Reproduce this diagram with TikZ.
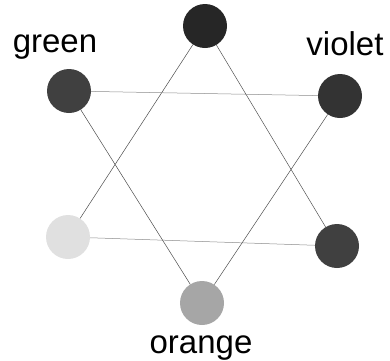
\documentclass[tikz,border=0pt]{standalone}
\usepackage{fontspec}
\setmainfont{Liberation Sans}
\usetikzlibrary{positioning}

\begin{document}
\begin{tikzpicture}[x=1pt,y=-1pt,
    ball/.style={circle, inner sep=0pt, minimum size=44pt},
    edge/.style={draw=black!70, line width=0.5pt},
    flat/.style={draw=black!45, line width=0.5pt},
    colname/.style={anchor=base, inner sep=0pt, font=\fontsize{33}{40}\selectfont}]
        \path[use as bounding box] (0,0) rectangle (390,360);

        % the six balls of the star
        \draw (205,26) node[ball, fill=black!85] (top) {};
        \draw (69,91) node[ball, fill=black!75] (green) {};
        \draw (340,96) node[ball, fill=black!80] (violet) {};
        \draw (68,237) node[ball, fill=black!12] (grey) {};
        \draw (337,246) node[ball, fill=black!75] (dark) {};
        \draw (202,303) node[ball, fill=black!35] (orange) {};

        % labels
        \node[colname] (tgreen) at (55,52) {green};
        \node[colname] (tviolet) at (345,55) {violet};
        \node[colname] (torange) at (201,353) {orange};

        % two triangles
        \draw[edge] (top) -- (grey);
        \draw[edge] (top) -- (dark);
        \draw[flat] (grey) -- (dark);
        \draw[edge] (green) -- (orange);
        \draw[edge] (violet) -- (orange);
        \draw[flat] (green) -- (violet);
\end{tikzpicture}
\end{document}
